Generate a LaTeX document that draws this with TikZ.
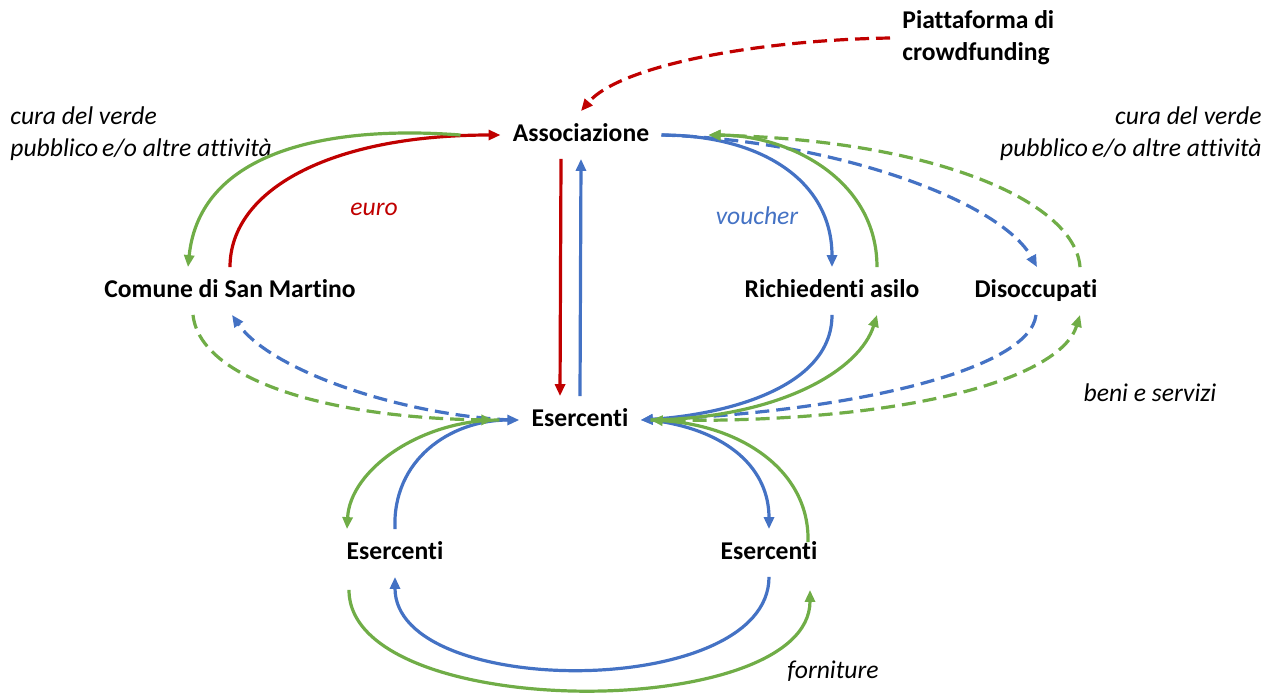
\documentclass[tikz,border=0pt]{standalone}
\usepackage{fontspec}
\setmainfont{Carlito}[Ligatures=NoCommon]
\usetikzlibrary{arrows.meta}
\definecolor{flowred}{RGB}{192,0,0}
\definecolor{flowblue}{RGB}{68,114,196}
\definecolor{flowgreen}{RGB}{112,173,71}

\begin{document}
\begin{tikzpicture}[x=0.5pt, y=-0.5pt,
    actor/.style={font=\fontsize{12.8}{16}\selectfont\bfseries, inner sep=6pt, text height=9pt, text depth=2.5pt},
    note/.style={font=\fontsize{12.8}{16}\selectfont\itshape, inner sep=0pt},
    flow/.style={line width=1.6pt, -{Triangle[length=6pt,width=5pt]}},
    dashline/.style={dash pattern=on 7pt off 3.5pt}]
    \useasboundingbox (0,0) rectangle (1274,693);

    % actors
    \node[actor] (ass) at (581,135) {Associazione};
    \node[font=\fontsize{12.8}{16}\selectfont\bfseries, align=left, inner sep=6pt, anchor=west] (plat) at (890,38) {Piattaforma di\\crowdfunding};
    \node[actor] (com) at (230,291) {Comune di San Martino};
    \node[actor] (ric) at (832,291) {Richiedenti asilo};
    \node[actor] (dis) at (1036,291) {Disoccupati};
    \node[actor] (ese) at (580,420) {Esercenti};
    \node[actor] (el) at (395,553) {Esercenti};
    \node[actor] (er) at (769,553) {Esercenti};

    % labels
    \node[note, align=left, anchor=west] (curaL) at (10,134) {cura del verde\\pubblico\hspace{0.15em}e/o altre attività};
    \node[note, align=right, anchor=east] (curaR) at (1262,134) {cura del verde\\pubblico\hspace{0.15em}e/o altre attività};
    \node[note, text=flowred] (euro) at (374,209) {euro};
    \node[note, text=flowblue] (vou) at (757,216) {voucher};
    \node[note] (beni) at (1150,393) {beni e servizi};
    \node[note] (forn) at (833,671) {forniture};

    % euro flows
    \draw[flow, dashline, flowred] (plat.west) .. controls (760,40) and (620,65) .. (ass.north);
    \draw[flow, flowred] (com.north) .. controls (230,190) and (330,135) .. (ass.west);
    \draw[flow, flowred] ([xshift=-10pt]ass.south) -- ([xshift=-10pt]ese.north);

    % voucher flows
    \draw[flow, flowblue] (ese.north) -- (ass.south);
    \draw[flow, flowblue] (ass.east) .. controls (760,135) and (832,180) .. (ric.north);
    \draw[flow, dashline, flowblue] (ass.east) .. controls (830,140) and (1000,200) .. ([xshift=0.5pt]dis.north);
    \draw[flow, flowblue] (ric.south) .. controls (832,390) and (720,415) .. (ese.east);
    \draw[flow, dashline, flowblue] (dis.south) .. controls (1030,370) and (850,412) .. (ese.east);
    \draw[flow, dashline, flowblue] ([xshift=-4pt]ese.west) .. controls (400,415) and (270,370) .. ([xshift=1pt]com.south);
    \draw[flow, flowblue] (el.north) .. controls (392,460) and (450,420) .. (ese.west);
    \draw[flow, flowblue] ([xshift=5pt]ese.east) .. controls (730,430) and (769,470) .. (er.north);
    \draw[flow, flowblue] (er.south) .. controls (769,700) and (395,700) .. (el.south);

    % goods and services
    \draw[flow, flowgreen] ([xshift=-20pt]ass.west) .. controls (330,125) and (200,150) .. ([xshift=-21pt]com.north);
    \draw[flow, flowgreen] ([xshift=22.5pt]ric.north) .. controls (877,180) and (790,135) .. ([xshift=23.5pt]ass.east);
    \draw[flow, dashline, flowgreen] ([xshift=22pt]dis.north) .. controls (1075,200) and (930,140) .. ([xshift=23.5pt]ass.east);
    \draw[flow, dashline, flowgreen] ([xshift=-18.5pt]com.south) .. controls (200,380) and (330,418) .. ([xshift=-13pt]ese.west);
    \draw[flow, flowgreen] ([xshift=-10pt]ese.west) .. controls (420,420) and (350,470) .. ([xshift=-24pt]el.north);
    \draw[flow, flowgreen] ([xshift=5pt]ese.east) .. controls (780,418) and (860,370) .. ([xshift=22.5pt]ric.south);
    \draw[flow, dashline, flowgreen] ([xshift=5pt]ese.east) .. controls (900,425) and (1060,380) .. ([xshift=22pt]dis.south);
    \draw[flow, flowgreen] ([shift={(19.5pt,-6.5pt)}]er.north) .. controls (810,470) and (740,425) .. ([xshift=5pt]ese.east);
    \draw[flow, flowgreen] ([shift={(-23pt,-6.5pt)}]el.south) .. controls (349,723) and (810,723) .. ([shift={(20.5pt,-6.5pt)}]er.south);
\end{tikzpicture}
\end{document}
